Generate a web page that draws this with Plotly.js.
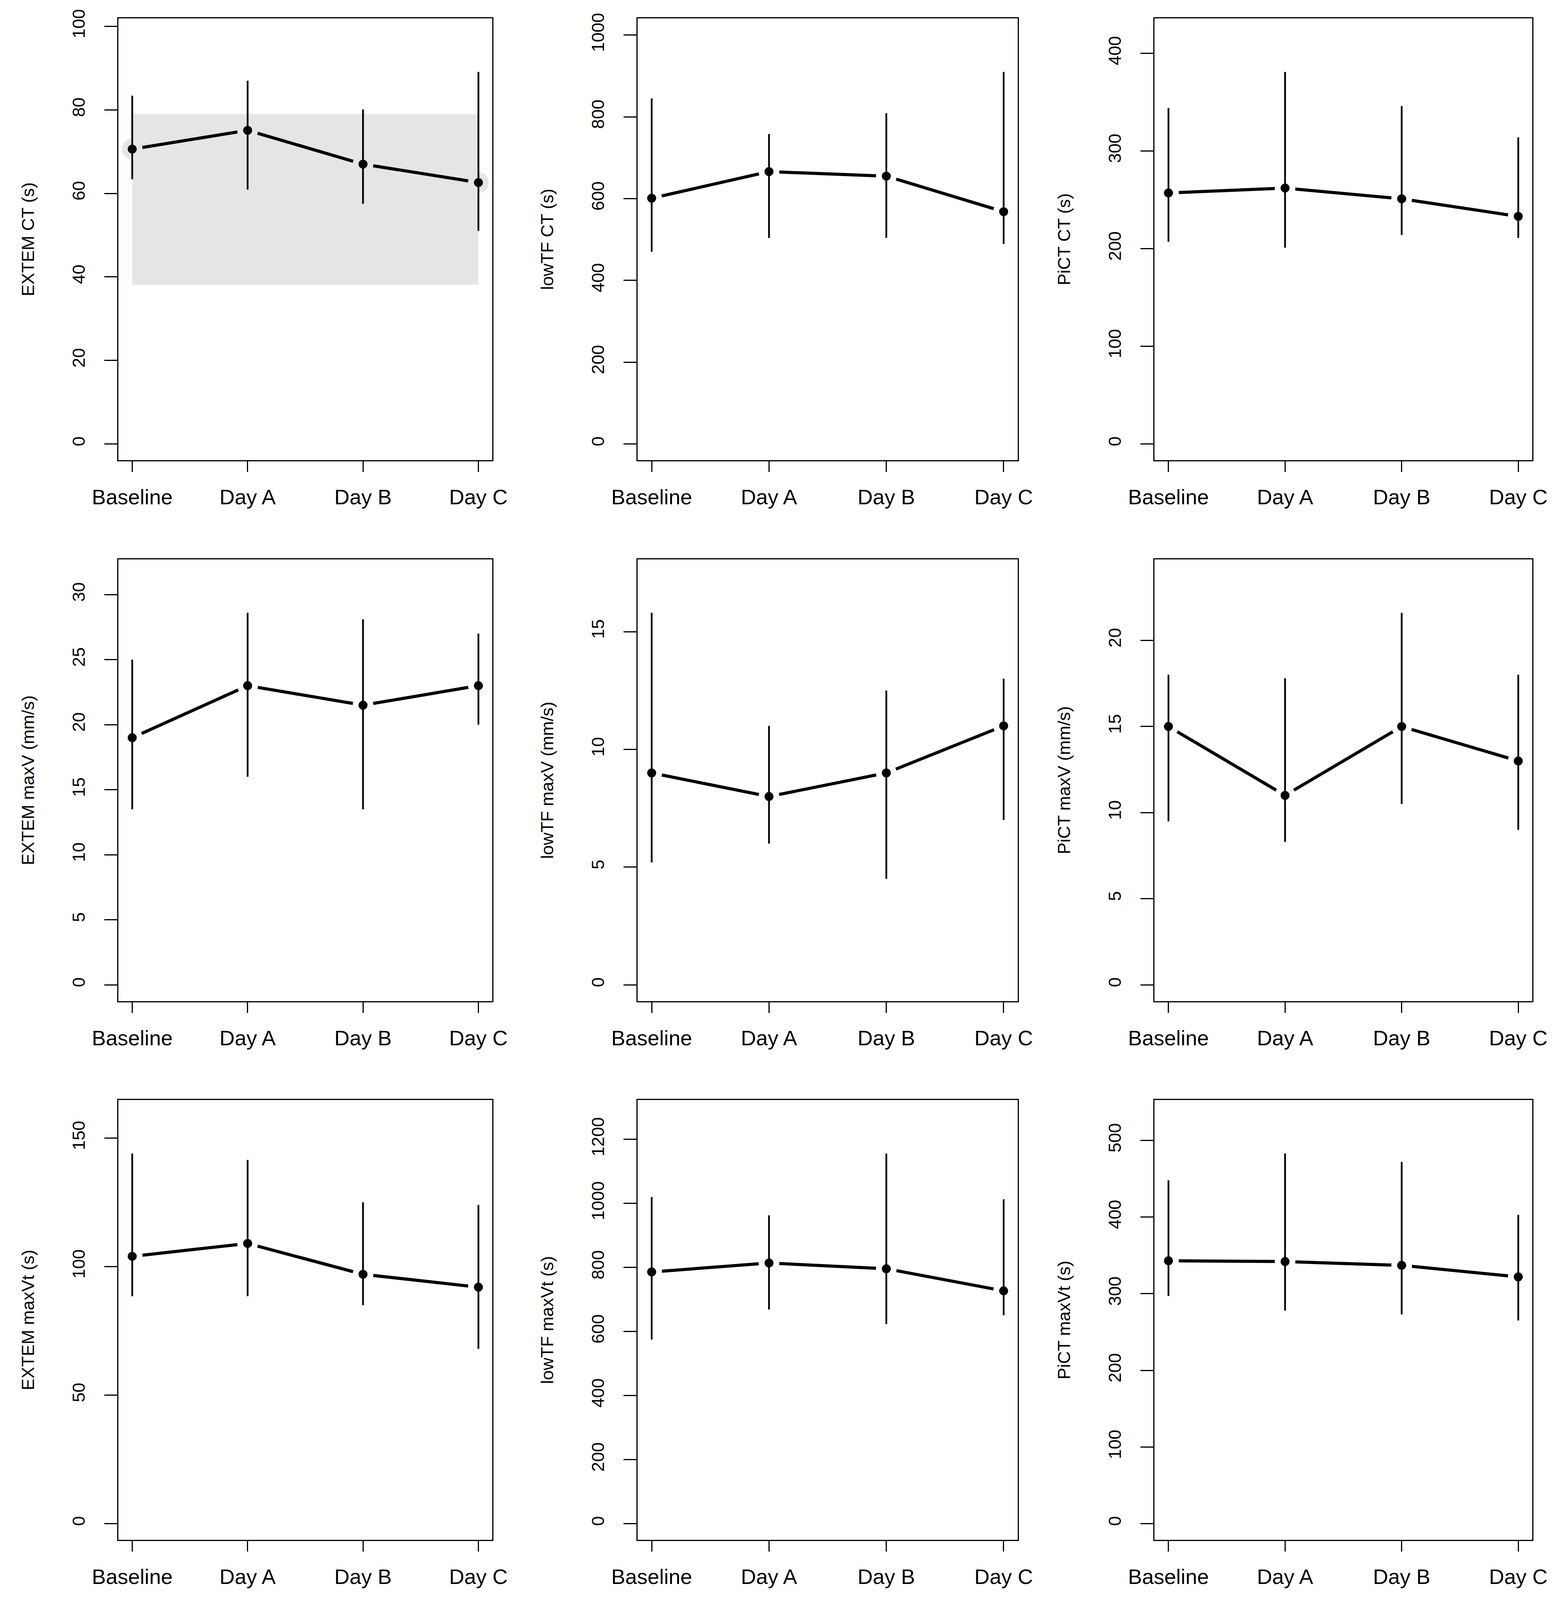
<!DOCTYPE html>
<html><head><meta charset="utf-8">
<script src="https://cdn.plot.ly/plotly-3.0.1.min.js"></script>
<style>html,body{margin:0;padding:0;background:#fff;overflow:hidden;}</style>
</head><body><div id="chart"></div>
<script>
// ---------- categories ----------
const timepoints = ['Baseline', 'Day A', 'Day B', 'Day C'];

// ---------- EXTEM CT (s) ----------
const extemCTMean  = [70.6, 75.1, 67.0, 62.6];
const extemCTUpper = [83.4, 87.0, 80.1, 89.1];
const extemCTLower = [63.4, 60.9, 57.5, 51.0];
const extemCTRefRange = [38.1, 79.0];

// ---------- lowTF CT (s) ----------
const lowtfCTMean  = [601, 666, 655, 568];
const lowtfCTUpper = [845, 758, 809, 910];
const lowtfCTLower = [470, 504, 504, 489];

// ---------- PiCT CT (s) ----------
const pictCTMean  = [257, 262, 251, 233];
const pictCTUpper = [344, 381, 346, 314];
const pictCTLower = [207, 201, 214, 211];

// ---------- EXTEM maxV (mm/s) ----------
const extemMaxVMean  = [19.0, 23.0, 21.5, 23.0];
const extemMaxVUpper = [25.0, 28.6, 28.1, 27.0];
const extemMaxVLower = [13.5, 16.0, 13.5, 20.0];

// ---------- lowTF maxV (mm/s) ----------
const lowtfMaxVMean  = [9.0, 8.0, 9.0, 11.0];
const lowtfMaxVUpper = [15.8, 11.0, 12.5, 13.0];
const lowtfMaxVLower = [5.2, 6.0, 4.5, 7.0];

// ---------- PiCT maxV (mm/s) ----------
const pictMaxVMean  = [15.0, 11.0, 15.0, 13.0];
const pictMaxVUpper = [18.0, 17.8, 21.6, 18.0];
const pictMaxVLower = [9.5, 8.3, 10.5, 9.0];

// ---------- EXTEM maxVt (s) ----------
const extemMaxVtMean  = [104, 109, 97, 92];
const extemMaxVtUpper = [144, 141.5, 125, 124];
const extemMaxVtLower = [88.5, 88.5, 85, 68];

// ---------- lowTF maxVt (s) ----------
const lowtfMaxVtMean  = [786, 814, 796, 727];
const lowtfMaxVtUpper = [1020, 963, 1156, 1013];
const lowtfMaxVtLower = [575, 669, 623, 651];

// ---------- PiCT maxVt (s) ----------
const pictMaxVtMean  = [343, 342, 337, 322];
const pictMaxVtUpper = [448, 483, 472, 403];
const pictMaxVtLower = [297, 278, 273, 265];

// ---------- axis titles & tick steps ----------
const yTitles = ['EXTEM CT (s)', 'lowTF CT (s)', 'PiCT CT (s)',
                 'EXTEM maxV (mm/s)', 'lowTF maxV (mm/s)', 'PiCT maxV (mm/s)',
                 'EXTEM maxVt (s)', 'lowTF maxVt (s)', 'PiCT maxVt (s)'];
const yTickSteps = [20, 200, 100, 5, 5, 5, 50, 200, 100];

const panelData = [
  [extemCTMean, extemCTUpper, extemCTLower],
  [lowtfCTMean, lowtfCTUpper, lowtfCTLower],
  [pictCTMean, pictCTUpper, pictCTLower],
  [extemMaxVMean, extemMaxVUpper, extemMaxVLower],
  [lowtfMaxVMean, lowtfMaxVUpper, lowtfMaxVLower],
  [pictMaxVMean, pictMaxVUpper, pictMaxVLower],
  [extemMaxVtMean, extemMaxVtUpper, extemMaxVtLower],
  [lowtfMaxVtMean, lowtfMaxVtUpper, lowtfMaxVtLower],
  [pictMaxVtMean, pictMaxVtUpper, pictMaxVtLower]
];

// ---------- layout geometry (reference is 3993 x 4901; fit to the window) ----------
const REF_W = 3993, REF_H = 4901;
const W = window.innerWidth || REF_W;
const H = Math.min(REF_H, window.innerHeight || REF_H);
const sy = H / REF_H;                       // vertical squeeze when window is shorter
const colDomains = [[303 / REF_W, 1260 / REF_W], [1632 / REF_W, 2605 / REF_W], [2955 / REF_W, 3922 / REF_W]];
const rowDomains = [[1 - 1410 / REF_H, 1 - 56 / REF_H], [1 - 3067 / REF_H, 1 - 1713 / REF_H], [1 - 4717 / REF_H, 1 - 3370 / REF_H]];

const FONT = 'Liberation Sans, Arial, Helvetica, sans-serif';
const FS_X = 54;                                      // horizontal tick labels
const FS_Y = Math.round(53 * sy + 1);                 // rotated labels
const BAND = '#e5e5e5';

const traces = [];
const layout = {
  width: W, height: H,
  margin: {l: 0, r: 0, t: 0, b: 0},
  paper_bgcolor: '#fff', plot_bgcolor: 'rgba(0,0,0,0)',
  showlegend: false,
  font: {family: FONT, size: FS_X, color: '#000'},
  shapes: []
};

panelData.forEach((d, i) => {
  const [mean, upper, lower] = d;
  const s = i === 0 ? '' : String(i + 1);
  const row = Math.floor(i / 3), col = i % 3;
  const top = 1.1 * Math.max(...upper);
  const ringColor = i === 0 ? BAND : '#fff';

  // connecting line + points (ring gives the gap around each point)
  traces.push({
    type: 'scatter', mode: 'lines+markers',
    x: timepoints, y: mean,
    xaxis: 'x' + s, yaxis: 'y' + s,
    line: {color: '#000', width: 8},
    marker: {color: '#000', size: 38, line: {color: ringColor, width: 15}},
    cliponaxis: false, hoverinfo: 'skip'
  });
  // range bars, drawn on top so they pass through the points
  traces.push({
    type: 'scatter', mode: 'markers',
    x: timepoints, y: mean,
    xaxis: 'x' + s, yaxis: 'y' + s,
    marker: {color: 'rgba(0,0,0,0)', size: 1},
    error_y: {
      type: 'data', symmetric: false,
      array: upper.map((u, k) => u - mean[k]),
      arrayminus: lower.map((l, k) => mean[k] - l),
      color: '#000', thickness: 4.5, width: 0
    },
    cliponaxis: false, hoverinfo: 'skip'
  });

  layout['xaxis' + s] = {
    domain: colDomains[col], anchor: 'y' + s,
    type: 'category', range: [-0.12, 3.12],
    showline: true, mirror: true, linecolor: '#000', linewidth: 3,
    ticks: 'outside', ticklen: Math.round(32 * sy), tickwidth: 3, tickcolor: '#000',
    showgrid: false, zeroline: false,
    tickfont: {family: FONT, size: FS_X, color: '#000'},
    ticklabelstandoff: Math.round(22 * sy)
  };
  layout['yaxis' + s] = {
    domain: rowDomains[row], anchor: 'x' + s,
    range: [-0.04 * top, 1.04 * top],
    tick0: 0, dtick: yTickSteps[i], tickmode: 'linear',
    showline: true, mirror: true, linecolor: '#000', linewidth: 3,
    ticks: 'outside', ticklen: 33, tickwidth: 3, tickcolor: '#000',
    showgrid: false, zeroline: false,
    tickangle: -90,
    tickfont: {family: FONT, size: FS_Y, color: '#000'},
    ticklabelstandoff: 32,
    title: {text: yTitles[i], font: {family: FONT, size: FS_Y, color: '#000'}, standoff: 75}
  };
});

// reference range band on the EXTEM CT panel
layout.shapes.push({
  type: 'rect', xref: 'x', yref: 'y', layer: 'below',
  x0: timepoints[0], x1: timepoints[3],
  y0: extemCTRefRange[0], y1: extemCTRefRange[1],
  fillcolor: BAND, line: {width: 0}
});

Plotly.newPlot('chart', traces, layout, {staticPlot: true, displayModeBar: false});
</script>
</body></html>
